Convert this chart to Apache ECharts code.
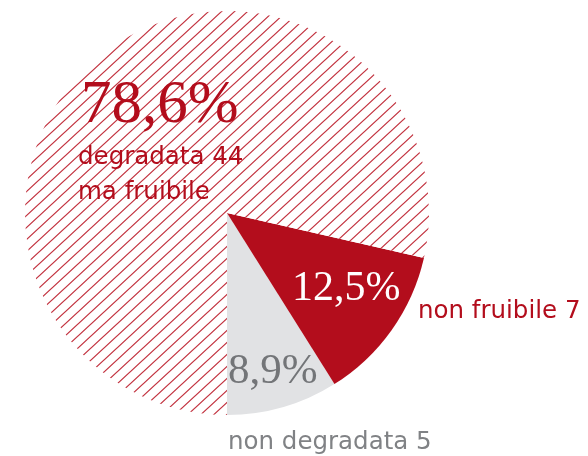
<!DOCTYPE html>
<html>
<head>
<meta charset="utf-8">
<script src="https://cdn.jsdelivr.net/npm/echarts@6/dist/echarts.min.js"></script>
<style>
  html, body { margin: 0; padding: 0; background: #fff; }
  #chart { width: 588px; height: 456px; }
</style>
</head>
<body>
<div id="chart"></div>
<script>
// dati: ordine antiorario partendo dal basso
var categorie = ['non degradata', 'non fruibile', 'degradata ma fruibile'];
var valori = [5, 7, 44];
var etichette = ['non degradata 5', 'non fruibile 7', 'degradata 44\nma fruibile'];

var rosso = '#b30d1c';
var grigio = '#e1e2e4';
var grigioTesto = '#737578';

// tratteggio diagonale per la fetta grande
function tratteggio() {
    var w = 13, h = 12;
    var c = document.createElement('canvas');
    c.width = w;
    c.height = h;
    var ctx = c.getContext('2d');
    ctx.fillStyle = '#fff';
    ctx.fillRect(0, 0, w, h);
    ctx.strokeStyle = '#c2323f';
    ctx.lineWidth = 1.2;
    ctx.beginPath();
    for (var k = -1; k <= 1; k++) {
        ctx.moveTo(k * w - w, 2 * h);
        ctx.lineTo(k * w + 2 * w, -h);
    }
    ctx.stroke();
    return c;
}

var totale = valori.reduce(function (a, b) { return a + b; }, 0);
function perc(v) {
    return (v / totale * 100).toFixed(1).replace('.', ',') + '%';
}

var chartDom = document.getElementById('chart');
var myChart = echarts.init(chartDom);
var option;

option = {
    animation: false,
    series: [
        {
            type: 'pie',
            center: [227, 213],
            radius: 202,
            startAngle: 270,
            clockwise: false,
            label: { show: false },
            labelLine: { show: false },
            itemStyle: { borderWidth: 0 },
            emphasis: { disabled: true },
            data: [
                { name: categorie[0], value: valori[0], itemStyle: { color: grigio } },
                { name: categorie[1], value: valori[1], itemStyle: { color: rosso } },
                { name: categorie[2], value: valori[2], itemStyle: { color: { image: tratteggio(), repeat: 'repeat' } } }
            ]
        }
    ],
    graphic: [
        // degradata ma fruibile
        { type: 'text', z: 100, left: 81, top: 75, style: { text: perc(valori[2]), font: '61px "Liberation Serif"', fill: rosso } },
        { type: 'text', z: 100, left: 78, top: 140, style: { text: etichette[2], font: '24.5px "DejaVu Sans"', lineHeight: 35, fill: rosso } },
        // non fruibile
        { type: 'text', z: 100, left: 292, top: 268, style: { text: perc(valori[1]), font: '42px "Liberation Serif"', fill: '#fff' } },
        { type: 'text', z: 100, left: 418, top: 299, style: { text: etichette[1], font: '24.5px "DejaVu Sans"', fill: rosso } },
        // non degradata
        { type: 'text', z: 100, left: 228, top: 350, style: { text: perc(valori[0]), font: '43px "Liberation Serif"', fill: grigioTesto } },
        { type: 'text', z: 100, left: 228, top: 430, style: { text: etichette[0], font: '24.5px "DejaVu Sans"', fill: '#808285' } }
    ]
};

option && myChart.setOption(option);
</script>
</body>
</html>
